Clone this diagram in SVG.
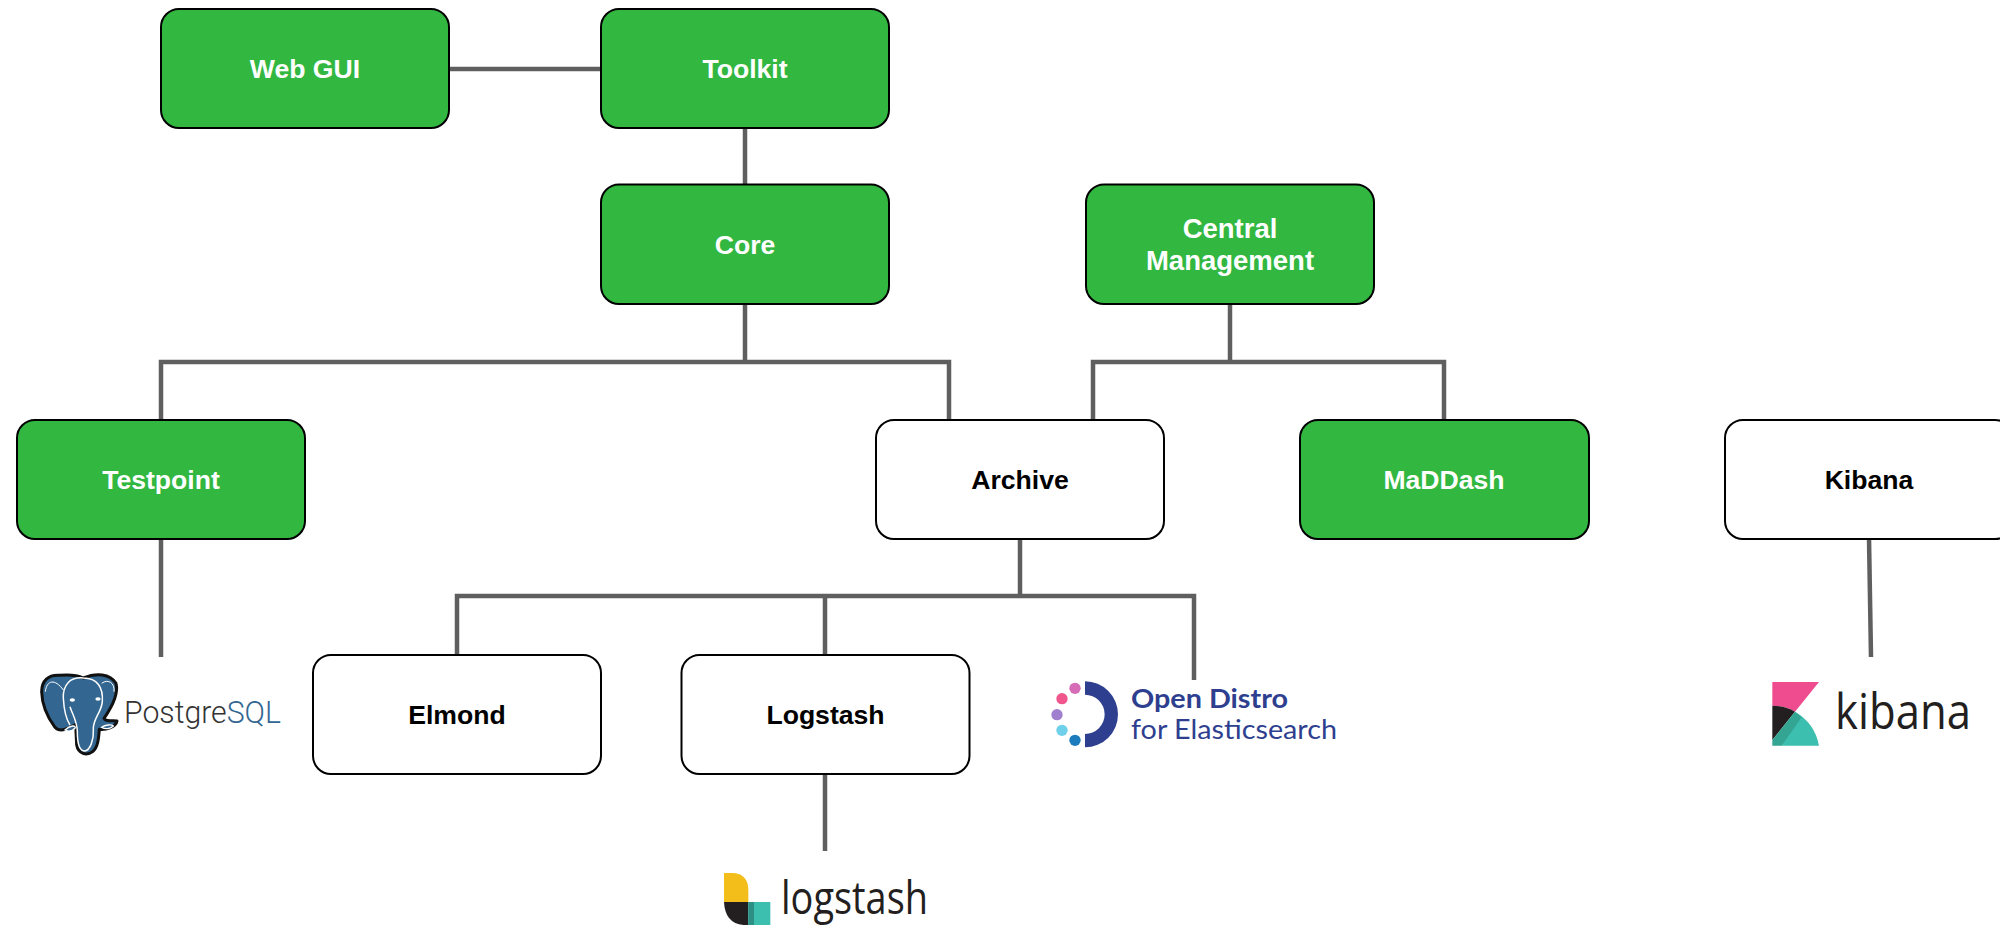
<svg xmlns="http://www.w3.org/2000/svg" width="2000" height="925" viewBox="0 0 2000 925">
<style>
.box{stroke:#000;stroke-width:2}
.g{fill:#32b741}
.w{fill:#fff}
.t{font:bold 26.6px "Liberation Sans",Arial,sans-serif;text-anchor:middle}
.tw{fill:#fff}
.tb{fill:#000}
.wide{font-size:27.5px}
#connectors path{fill:none;stroke:#5f5f5f;stroke-width:4.5}
</style>
<rect width="2000" height="925" fill="#fff"/>
<g id="connectors">
<path d="M449 69H601"/>
<path d="M745 128V184"/>
<path d="M745 304V362M161 420V362H949V420"/>
<path d="M1230 304V362M1093 420V362H1444V420"/>
<path d="M161 538V657"/>
<path d="M1020 538V596M457 655V596H1194V680M825 596V655"/>
<path d="M825 774V851"/>
<path d="M1869 538L1871 657"/>
</g>
<g id="web-gui"><rect class="box g" x="161" y="9" width="288" height="119" rx="18"/><text class="t tw" x="305" y="78">Web GUI</text></g>
<g id="toolkit"><rect class="box g" x="601" y="9" width="288" height="119" rx="18"/><text class="t tw" x="745" y="78">Toolkit</text></g>
<g id="core"><rect class="box g" x="601" y="184.5" width="288" height="119.5" rx="18"/><text class="t tw" x="745" y="254">Core</text></g>
<g id="central-management"><rect class="box g" x="1086" y="184.5" width="288" height="119.5" rx="18"/><text class="t tw wide" x="1230" y="238">Central</text><text class="t tw wide" x="1230" y="270">Management</text></g>
<g id="testpoint"><rect class="box g" x="17" y="420" width="288" height="119" rx="18"/><text class="t tw" x="161" y="489">Testpoint</text></g>
<g id="archive"><rect class="box w" x="876" y="420" width="288" height="119" rx="18"/><text class="t tb" x="1020" y="489">Archive</text></g>
<g id="maddash"><rect class="box g" x="1300" y="420" width="289" height="119" rx="18"/><text class="t tw" x="1444" y="489">MaDDash</text></g>
<g id="kibana"><rect class="box w" x="1725" y="420" width="288" height="119" rx="18"/><text class="t tb" x="1869" y="489">Kibana</text></g>
<g id="elmond"><rect class="box w" x="313" y="655" width="288" height="119" rx="18"/><text class="t tb" x="457" y="724">Elmond</text></g>
<g id="logstash"><rect class="box w" x="681.5" y="655" width="288" height="119" rx="18"/><text class="t tb" x="825.5" y="724">Logstash</text></g>
<g id="postgresql-logo">
<g transform="translate(20 650) scale(.3333)">
<path d="M118 76C85 74 65 92 65 125C66 165 85 205 105 232C118 246 135 240 150 232L167 224L170 285C175 312 200 318 218 305C234 292 236 265 238 238C260 240 288 230 291 213C272 212 256 214 252 205C275 172 296 130 288 100C270 70 228 68 190 84C165 72 140 74 118 76Z" fill="#336791" stroke="#111" stroke-width="9" stroke-linejoin="round"/>
<path d="M190 84C150 80 128 105 130 145C132 180 140 210 150 225M190 84C232 84 250 112 247 155C244 190 218 205 220 240C222 270 210 300 195 303C178 303 172 280 172 245C172 215 158 195 150 170" fill="none" stroke="#fff" stroke-width="4.5"/>
<path d="M130 120C105 85 80 90 76 125M245 100C265 85 285 100 282 125" fill="none" stroke="#fff" stroke-width="3"/>
<ellipse cx="157" cy="150" rx="8" ry="5" fill="#fff"/><ellipse cx="234" cy="147" rx="8" ry="5" fill="#fff"/>
<path d="M135 240C150 225 170 225 165 235C155 245 145 245 135 240ZM245 232C255 225 275 222 280 228C270 238 255 238 245 232Z" fill="#336791" stroke="#fff" stroke-width="4"/>
</g>
<text x="124" y="723" font-family="Roboto,'Liberation Sans',sans-serif" font-weight="300" font-size="31" textLength="157" lengthAdjust="spacingAndGlyphs"><tspan fill="#333">Postgre</tspan><tspan fill="#336791">SQL</tspan></text>
</g>
<g id="open-distro-logo">
<g transform="translate(1030 660) scale(.3333)">
<path d="M165 64A99 99 0 0 1 165 262V222A59 59 0 0 0 165 104Z" fill="#2f3f8f"/>
<circle cx="135" cy="85" r="17" fill="#d56cb5"/><circle cx="96" cy="116" r="17" fill="#f0568c"/><circle cx="81" cy="164" r="17" fill="#a07fce"/><circle cx="96" cy="211" r="17" fill="#6fd0ec"/><circle cx="135" cy="241" r="17" fill="#1b7bbd"/>
</g>
<text x="1131" y="707.5" font-family="Lato,'Noto Sans',sans-serif" font-weight="700" font-size="27" fill="#2f3f8f" textLength="157" lengthAdjust="spacingAndGlyphs">Open Distro</text>
<text x="1131" y="739" font-family="Lato,'Noto Sans',sans-serif" font-size="26" fill="#2f3f8f" textLength="206" lengthAdjust="spacingAndGlyphs">for Elasticsearch</text>
</g>
<g id="kibana-logo">
<g transform="translate(1750 660) scale(.3333)">
<path d="M67 66H207L135 155Q105 137 67 137Z" fill="#ee4c8f"/>
<path d="M67 137Q105 137 135 155L67 240Z" fill="#231f20"/>
<path d="M135 155Q195 190 207 257H95Z" fill="#3dbfb0"/>
<path d="M135 155L155 172L95 257H67V240Z" fill="#35a593"/>
</g>
<text x="1835" y="729" font-family="'Open Sans','Noto Sans',sans-serif" font-size="50" fill="#231f20" textLength="136" lengthAdjust="spacingAndGlyphs">kibana</text>
</g>
<g id="logstash-logo">
<g transform="translate(700 840) scale(.3333)">
<path d="M72 99H100Q145 103 145 150V186H72Z" fill="#f3bd1a"/>
<path d="M72 186H145V255H130Q75 250 72 186Z" fill="#231f20"/>
<path d="M145 186H211V255H145Z" fill="#3dbfb0"/>
<path d="M145 186H162V255H145Z" fill="#2e8f85"/>
</g>
<text x="781" y="914" font-family="'Open Sans','Noto Sans',sans-serif" font-size="45" fill="#231f20" textLength="147" lengthAdjust="spacingAndGlyphs">logstash</text>
</g>
</svg>
